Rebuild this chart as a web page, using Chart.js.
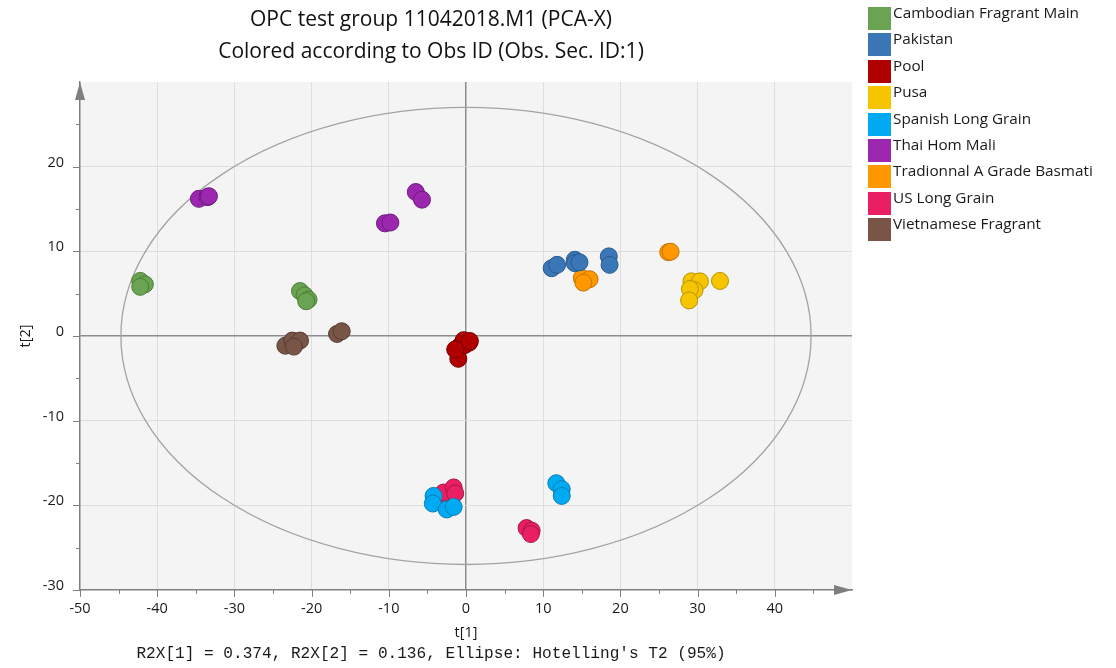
<!DOCTYPE html>
<html>
<head>
<meta charset="utf-8">
<script src="https://cdn.jsdelivr.net/npm/chart.js@4.4.1/dist/chart.umd.min.js"></script>
<style>
  body { margin: 0; background: #fff; }
  #wrap { position: relative; width: 1116px; height: 668px; }
  #legend { position: absolute; left: 868px; top: 7px; font-family: "Open Sans", sans-serif; font-size: 15.3px; color: #1a1a1a; }
  #legend .item { position: relative; height: 26.4px; }
  #legend .box { position: absolute; left: 0; top: 0; width: 23px; height: 23px; }
  #legend .txt { position: absolute; left: 25px; top: -5px; white-space: nowrap; line-height: 20px; }
</style>
</head>
<body>
<div id="wrap">
  <canvas id="chartScores" width="1116" height="668"></canvas>
  <div id="legend"></div>
</div>
<script>
// score plot t[1] / t[2], one dataset per obs id

var obs_names = [
  'Cambodian Fragrant Main',
  'Pakistan',
  'Pool',
  'Pusa',
  'Spanish Long Grain',
  'Thai Hom Mali',
  'Tradionnal A Grade Basmati',
  'US Long Grain',
  'Vietnamese Fragrant'
];
var obs_colors = ['#6aa452', '#3b76b6', '#b00000', '#f6c500', '#00aaf2', '#9b27af', '#ff9800', '#e91e63', '#795548'];
var obs_borders = ['#4a7d38', '#285a90', '#7a0000', '#b89300', '#0a7fb5', '#6f1a80', '#c27400', '#a8164a', '#553b32'];

// [t1, t2] per observation
var cambodian = [[-42.2, 6.5], [-41.6, 6.1], [-42.2, 5.8], [-21.5, 5.3], [-20.9, 4.8], [-20.4, 4.3], [-20.7, 4.1]];
var pakistan = [[11.1, 8.0], [11.8, 8.4], [14.1, 9.0], [14.1, 8.6], [14.7, 8.7], [18.5, 9.4], [18.6, 8.4]];
var pool = [[-0.9, -1.3], [-0.5, -0.9], [0.0, -0.7], [0.4, -0.8], [-0.2, -1.1], [-1.0, -2.7], [-0.3, -0.5], [0.5, -0.6], [-1.4, -1.6]];
var pusa = [[29.2, 6.45], [30.3, 6.45], [29.6, 5.4], [29.0, 5.55], [28.9, 4.2], [32.9, 6.5]];
var spanish = [[-4.2, -18.9], [-4.3, -19.8], [-2.5, -20.5], [-1.6, -20.2], [11.7, -17.4], [12.4, -18.1], [12.4, -18.9]];
var thai = [[-34.6, 16.2], [-33.5, 16.4], [-33.3, 16.5], [-10.5, 13.3], [-9.8, 13.4], [-6.5, 17.0], [-5.7, 16.1]];
var basmati = [[15.0, 6.85], [16.0, 6.7], [15.2, 6.3], [26.2, 9.9], [26.5, 9.95]];
var uslong = [[-3.1, -18.9], [-2.9, -18.5], [-1.6, -17.9], [-1.4, -18.6], [7.85, -22.7], [8.5, -23.0], [8.4, -23.4]];
var vietnamese = [[-16.7, 0.24], [-16.1, 0.55], [-23.4, -1.15], [-22.5, -0.55], [-21.5, -0.55], [-22.3, -1.26]];

var obs_points = [cambodian, pakistan, pool, pusa, spanish, thai, basmati, uslong, vietnamese];

// hotelling's T2 95% ellipse semi-axes
var ellipse_t1 = 44.7;
var ellipse_t2 = 27.0;

var x_ticks = [-50, -40, -30, -20, -10, 0, 10, 20, 30, 40];
var y_ticks = [-30, -20, -10, 0, 10, 20];

var title_lines = ['OPC test group 11042018.M1 (PCA-X)', 'Colored according to Obs ID (Obs. Sec. ID:1)'];
var footnote = "R2X[1] = 0.374, R2X[2] = 0.136, Ellipse: Hotelling's T2 (95%)";

var font_family = '"Open Sans", sans-serif';
var axis_gray = '#7f7f7f';

// plot background, ellipse, tick marks and axis arrows
var plotDecor = {
  id: 'plotDecor',
  beforeDraw: function(chart) {
    var a = chart.chartArea;
    var ctx = chart.ctx;
    ctx.save();
    ctx.fillStyle = '#f4f4f4';
    ctx.fillRect(a.left, a.top, a.right - a.left, a.bottom - a.top);
    ctx.restore();
  },
  beforeDatasetsDraw: function(chart) {
    var ctx = chart.ctx;
    var x = chart.scales.x, y = chart.scales.y;
    var cx = x.getPixelForValue(0), cy = y.getPixelForValue(0);
    ctx.save();
    ctx.strokeStyle = '#a3a3a3';
    ctx.lineWidth = 1.3;
    ctx.beginPath();
    ctx.ellipse(cx, cy, x.getPixelForValue(ellipse_t1) - cx, cy - y.getPixelForValue(ellipse_t2), 0, 0, Math.PI * 2);
    ctx.stroke();
    ctx.restore();
  },
  afterDraw: function(chart) {
    var ctx = chart.ctx;
    var a = chart.chartArea;
    var x = chart.scales.x, y = chart.scales.y;
    ctx.save();
    ctx.strokeStyle = axis_gray;
    ctx.lineWidth = 1;
    ctx.beginPath();
    for (var v = -50; v <= 45; v += 5) {
      var px = Math.round(x.getPixelForValue(v)) + 0.5;
      ctx.moveTo(px, a.bottom);
      ctx.lineTo(px, a.bottom + (v % 10 === 0 ? 7 : 4));
    }
    for (var w = -30; w <= 25; w += 5) {
      var py = Math.round(y.getPixelForValue(w)) + 0.5;
      ctx.moveTo(a.left, py);
      ctx.lineTo(a.left - (w % 10 === 0 ? 7 : 4), py);
    }
    ctx.stroke();
    // arrows
    ctx.fillStyle = axis_gray;
    ctx.beginPath();
    ctx.moveTo(a.left, a.top);
    ctx.lineTo(a.left - 5, a.top + 18);
    ctx.lineTo(a.left + 5, a.top + 18);
    ctx.closePath();
    ctx.fill();
    ctx.beginPath();
    ctx.moveTo(a.right, a.bottom);
    ctx.lineTo(a.right - 18, a.bottom - 5);
    ctx.lineTo(a.right - 18, a.bottom + 5);
    ctx.closePath();
    ctx.fill();
    ctx.restore();
  }
};

function grid_color(edge_min, edge_max) {
  return function(c) {
    var v = c.tick.value;
    if (v === 0) return '#8c8c8c';
    if (v % 10 === 0 && v > edge_min && v < edge_max) return '#dedede';
    return 'rgba(0,0,0,0)';
  };
}

function tick_label(list) {
  return function(value) {
    return list.indexOf(value) >= 0 ? String(value) : '';
  };
}

function init_scoreChart() {
  var datasets = obs_points.map(function(pts, i) {
    return {
      label: obs_names[i],
      data: pts.map(function(p) { return {x: p[0], y: p[1]}; }),
      backgroundColor: obs_colors[i],
      borderColor: obs_borders[i],
      borderWidth: 1,
      pointRadius: 8.5,
      pointHoverRadius: 8.5
    };
  });

  return new Chart(document.getElementById('chartScores'), {
    type: 'scatter',
    data: { datasets: datasets },
    plugins: [plotDecor],
    options: {
      responsive: false,
      animation: false,
      layout: { padding: { left: 0, right: 254, top: 0, bottom: 4.6 } },
      plugins: {
        legend: { display: false },
        tooltip: { enabled: false },
        title: {
          display: true,
          text: title_lines,
          color: '#111',
          font: { family: font_family, size: 21, weight: 'normal', lineHeight: 1.524 },
          padding: { top: 4, bottom: 14 }
        },
        subtitle: {
          display: true,
          position: 'bottom',
          text: footnote,
          color: '#1a1a1a',
          font: { family: '"Liberation Mono", monospace', size: 16.1, weight: 'normal', lineHeight: 1.2 },
          padding: 0
        }
      },
      scales: {
        x: {
          type: 'linear',
          min: -50,
          max: 50,
          afterFit: function(s) { s.height = 54.2; },
          ticks: {
            stepSize: 5,
            padding: 10,
            maxRotation: 0,
            autoSkip: false,
            color: '#1a1a1a',
            font: { family: font_family, size: 14.5 },
            callback: tick_label(x_ticks)
          },
          grid: {
            drawTicks: false,
            color: grid_color(-50, 50),
            lineWidth: function(c) { return c.tick.value === 0 ? 1.5 : 1; }
          },
          border: { display: true, color: axis_gray, width: 1.5 },
          title: {
            display: true,
            text: 't[1]',
            color: '#1a1a1a',
            font: { family: font_family, size: 14.5, lineHeight: 1.2 },
            padding: { top: 0, bottom: 2.8 }
          }
        },
        y: {
          type: 'linear',
          min: -30,
          max: 30,
          afterFit: function(s) { s.width = 80; },
          ticks: {
            stepSize: 5,
            padding: 16,
            labelOffset: -4,
            autoSkip: false,
            color: '#1a1a1a',
            font: { family: font_family, size: 14.5 },
            callback: tick_label(y_ticks)
          },
          grid: {
            drawTicks: false,
            color: grid_color(-30, 30),
            lineWidth: function(c) { return c.tick.value === 0 ? 1.5 : 1; }
          },
          border: { display: true, color: axis_gray, width: 1.5 },
          title: {
            display: true,
            text: 't[2]',
            color: '#1a1a1a',
            font: { family: font_family, size: 14.5, lineHeight: 1.2 },
            padding: { top: 17.3, bottom: 0 }
          }
        },
        // empty strip on the right of the plot
        yRight: {
          type: 'linear',
          position: 'right',
          afterFit: function(s) { s.width = 10; },
          ticks: { display: false },
          grid: { display: false },
          border: { display: false }
        }
      }
    }
  });
}

function build_legend() {
  var el = document.getElementById('legend');
  obs_names.forEach(function(name, i) {
    var item = document.createElement('div');
    item.className = 'item';
    var box = document.createElement('div');
    box.className = 'box';
    box.style.background = obs_colors[i];
    var txt = document.createElement('div');
    txt.className = 'txt';
    txt.textContent = name;
    item.appendChild(box);
    item.appendChild(txt);
    el.appendChild(item);
  });
}

build_legend();
var scoreChart = init_scoreChart();
</script>
</body>
</html>
